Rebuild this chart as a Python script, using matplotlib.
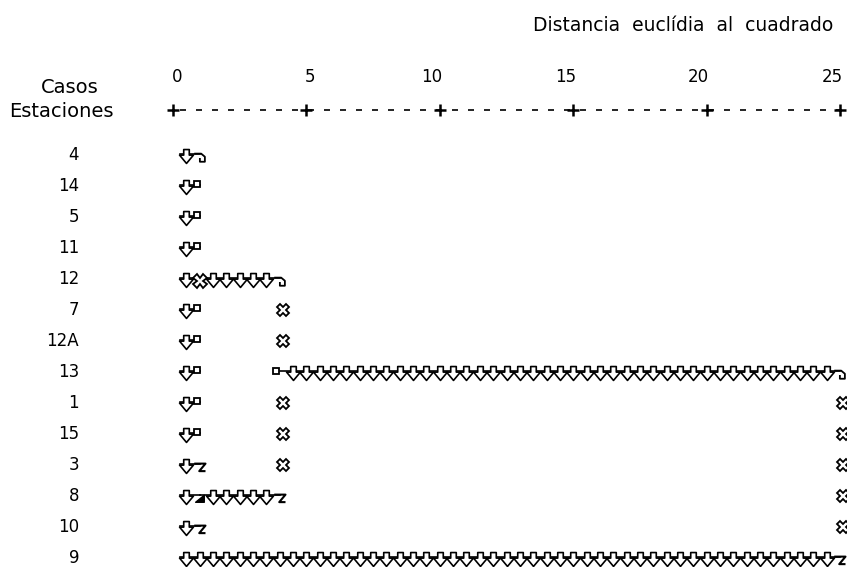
import numpy as np
import matplotlib.pyplot as plt
from matplotlib.path import Path

# casos (orden del dendrograma) y distancia reescalada a la que cada caso se une
labels = ['4', '14', '5', '11', '12', '7', '12A', '13', '1', '15', '3', '8', '10', '9']
leaf_dist = [1, 1, 1, 1, 1, 1, 1, 1, 1, 1, 1, 1, 1, 25]

# fusiones: filas que abarca, fila por la que sigue la rama, distancia, fusion padre
span_top = [0, 11, 4, 7]
span_bot = [10, 12, 11, 13]
out_row = [4, 11, 7, -1]
join_dist = [1.0, 1.0, 4.0, 25.0]
parent = [2, 2, 3, -1]

ticks = [0, 5, 10, 15, 20, 25]

# glifos "rotos" de la salida de SPSS
arrow = Path([(-0.2, 0.5), (0.2, 0.5), (0.2, 0.1), (0.5, 0.1), (0, -0.5),
              (-0.5, 0.1), (-0.2, 0.1), (0, 0)], closed=True)
hook = Path([(-0.5, 0.15), (0.05, 0.15), (0.35, -0.1), (0.35, -0.5),
             (-0.05, -0.5), (-0.05, -0.2)])
zed = Path([(-0.5, 0.15), (0.4, 0.15), (-0.1, -0.45), (0.4, -0.45)])
wedge = Path([(-0.45, -0.35), (0.35, 0.3), (0.35, -0.35), (0, 0)], closed=True)

step = 0.5
fig = plt.figure(figsize=(8.47, 5.67), dpi=100)
ax = fig.add_axes([0, 0, 1, 1])
ax.set_xlim(-173 / 26.68, (847 - 173) / 26.68)
ax.set_ylim(412 / 31, -155 / 31)
ax.axis('off')

font = 'DejaVu Sans'
ax.text(24.75, -4.19, 'Distancia  euclídia  al  cuadrado', ha='right', va='center',
        fontsize=13.5, family=font)
ax.text(-3.86, -2.19, 'Casos', ha='center', va='center', fontsize=14, family=font)
ax.text(-4.2, -1.39, 'Estaciones', ha='center', va='center', fontsize=14, family=font)
for t in ticks:
    dx = 0.15 if len(str(t)) == 1 else -0.3
    ax.text(t + dx, -2.52, str(t), ha='center', va='center', fontsize=12, family=font)
yp = -1.45
ax.plot([0.25, 25], [yp, yp], color='black', lw=1.2, ls=(0, (3.6, 6)))
ax.plot(ticks, [yp] * len(ticks), '+', color='black', ms=9, mew=1.8)

for r, lab in enumerate(labels):
    ax.text(-3.52, r, lab, ha='right', va='center', fontsize=12, family=font)

# tramos horizontales: (fila, inicio, fin)
segs = [(r, 0.0, d) for r, d in enumerate(leaf_dist)]
for m in range(len(join_dist)):
    if parent[m] >= 0:
        segs.append((out_row[m], join_dist[m], join_dist[parent[m]]))

arrow_kw = dict(ls='none', marker=arrow, ms=10, mfc='white', mec='black', mew=1.2)
for r, a, b in segs:
    xs = np.arange(a + step, b - 1e-9, step)
    ax.plot([max(a, 0.25), b], [r - 0.045, r - 0.045], color='black', lw=1.2, zorder=1)
    ax.plot(xs, [r + 0.02] * len(xs), zorder=2, **arrow_kw)

# tramos verticales
for m in range(len(join_dist)):
    d = join_dist[m]
    for r in range(span_top[m], span_bot[m] + 1):
        inc = any(s[0] == r and s[2] == d for s in segs)
        out = r == out_row[m]
        if r == span_top[m]:
            if out:
                ax.plot(d, r + 0.05, marker=wedge, ms=7, color='black', zorder=3)
            else:
                ax.plot(d, r, marker=hook, ms=9, mfc='none', mec='black', mew=1.3, zorder=3)
        elif r == span_bot[m]:
            ax.plot(d, r, marker=zed, ms=9, mfc='none', mec='black', mew=1.5, zorder=3)
        elif inc and out:
            ax.plot(d, r + 0.05, marker='X', ms=10, mfc='white', mec='black', mew=1.3, zorder=3)
        elif inc:
            ax.plot(d - 0.1, r - 0.05, marker='s', ms=4.5, mfc='white', mec='black', mew=1.3, zorder=3)
        elif out:
            ax.plot(d - 0.15, r - 0.02, marker='s', ms=4.5, mfc='white', mec='black', mew=1.3, zorder=3)
        else:
            ax.plot(d + 0.12, r, marker='X', ms=9, mfc='white', mec='black', mew=1.3, zorder=3)

plt.savefig('out.png', dpi=100)
